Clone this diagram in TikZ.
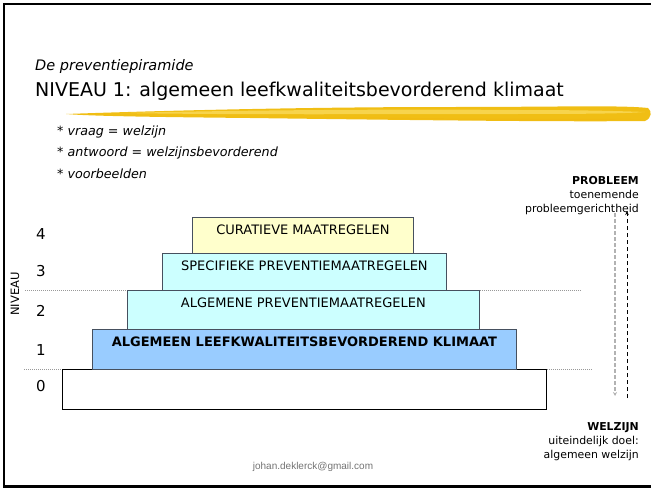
\documentclass[tikz,border=0pt]{standalone}
\usepackage{fontspec}
\setmainfont{DejaVu Sans}
\newfontfamily\arialfont{Liberation Sans}
\usetikzlibrary{arrows.meta,calc}
\definecolor{boxyellow}{RGB}{255,255,204}
\definecolor{boxcyan}{RGB}{204,255,255}
\definecolor{boxblue}{RGB}{153,204,255}
\definecolor{boxline}{RGB}{70,80,95}
\definecolor{brushdark}{RGB}{240,190,20}
\definecolor{brushlight}{RGB}{250,222,100}
\tikzset{
  pbox/.style={draw=boxline, line width=0.8pt, anchor=north west, inner sep=0pt},
  boxtext/.style={inner sep=0pt, font=\fontsize{13}{15}\selectfont},
  lvl/.style={inner sep=0pt, font=\fontsize{15}{17}\selectfont},
  dotline/.style={draw=gray!80, line width=0.5pt, dash pattern=on 1pt off 1pt},
  sidetext/.style={inner sep=0pt, anchor=east, align=right, font=\fontsize{10.9}{14}\selectfont},
  bullet/.style={inner sep=0pt, anchor=west, font=\fontsize{12.7}{15}\selectfont\itshape},
}
\begin{document}
\begin{tikzpicture}[x=1pt,y=-1pt]
\useasboundingbox (0,0) rectangle (651,490);
% frame
\draw[line width=2.5pt] (651,4) -- (4,4) -- (4,486.5) -- (651,486.5);
% brush stroke
\fill[brushdark] (66,114) .. controls (150,111) and (300,107) .. (450,107)
  .. controls (560,107) and (620,105) .. (648,108)
  .. controls (652,111) and (652,118) .. (645,121)
  .. controls (560,122) and (400,120) .. (250,118)
  .. controls (150,117) and (90,116) .. (66,114) -- cycle;
\fill[brushlight, opacity=0.7] (120,113) .. controls (250,110) and (400,109) .. (520,110)
  .. controls (580,110) and (620,111) .. (645,112)
  .. controls (620,114) and (560,114) .. (500,114)
  .. controls (380,114) and (250,115) .. (120,113) -- cycle;
\fill[brushdark!90!orange, opacity=0.5] (300,117) .. controls (400,118) and (520,119) .. (640,119)
  .. controls (600,121) and (450,121) .. (300,117) -- cycle;
% titles
\node[inner sep=0pt, anchor=base west, font=\fontsize{14.5}{17}\selectfont\itshape] (sub) at (35,70) {De preventiepiramide};
\node[inner sep=0pt, anchor=base west, font=\fontsize{19}{23}\selectfont] (title) at (35,96) {NIVEAU 1: algemeen leefkwaliteitsbevorderend klimaat};
% bullets
\node[bullet] (q1) at (57,132) {* vraag = welzijn};
\node[bullet] (q2) at (57,153) {* antwoord = welzijnsbevorderend};
\node[bullet] (q3) at (57,174) {* voorbeelden};
% side texts
\node[sidetext] (prob) at (639,196) {\textbf{PROBLEEM}\\toenemende\\probleemgerichtheid};
\node[sidetext] (welz) at (639,442) {\textbf{WELZIJN}\\uiteindelijk doel:\\algemeen welzijn};
% boxes
\node[pbox, draw=black, fill=white, minimum width=484, minimum height=40] (b0) at (62,369) {};
\node[pbox, fill=boxblue, minimum width=424, minimum height=40] (b1) at (92,329) {};
\node[pbox, fill=boxcyan, minimum width=352, minimum height=39] (b2) at (127,290) {};
\node[pbox, fill=boxcyan, minimum width=284, minimum height=37] (b3) at (162,253) {};
\node[pbox, fill=boxyellow, minimum width=221, minimum height=36] (b4) at (192,217) {};
\node[boxtext] (t4) at ($(b4.north)+(0,13)$) {CURATIEVE MAATREGELEN};
\node[boxtext] (t3) at ($(b3.north)+(0,13)$) {SPECIFIEKE PREVENTIEMAATREGELEN};
\node[boxtext] (t2) at ($(b2.north)+(0,13)$) {ALGEMENE PREVENTIEMAATREGELEN};
\node[boxtext, font=\fontsize{13}{15}\selectfont\bfseries] (t1) at ($(b1.north)+(0,13)$) {ALGEMEEN LEEFKWALITEITSBEVORDEREND KLIMAAT};
% dotted level lines
\coordinate (dl2) at (25,290);
\coordinate (dr2) at (580,290);
\coordinate (dl0) at (24,369);
\coordinate (dr0) at (592,369);
\draw[dotline] (dl2) -- (b2.north west);
\draw[dotline] (b2.north east) -- (dr2);
\draw[dotline] (dl0) -- (b0.north west);
\draw[dotline] (b0.north east) -- (dr0);
% levels
\node[lvl] (l4) at (41,234) {4};
\node[lvl] (l3) at (41,271) {3};
\node[lvl] (l2) at (41,311) {2};
\node[lvl] (l1) at (41,350) {1};
\node[lvl] (l0) at (41,386) {0};
\node[inner sep=0pt, rotate=90, font=\fontsize{11.5}{13}\selectfont] (niv) at (15,294) {NIVEAU};
% arrows
\coordinate (g1) at (615,213);
\coordinate (g2) at (615,396);
\coordinate (k1) at (627,398);
\coordinate (k2) at (627,211);
\draw[gray!60, line width=1.2pt, dash pattern=on 4pt off 2pt, -{Stealth[length=4pt,width=4pt]}] (g1) -- (g2);
\draw[black, line width=0.5pt, dash pattern=on 4pt off 3pt, -{Stealth[length=4pt,width=3.5pt]}] (k1) -- (k2);
% email
\node[inner sep=0pt, text=gray!90!black, font=\arialfont\fontsize{10}{12}\selectfont] (mail) at (313,467) {johan.deklerck@gmail.com};
\end{tikzpicture}
\end{document}
